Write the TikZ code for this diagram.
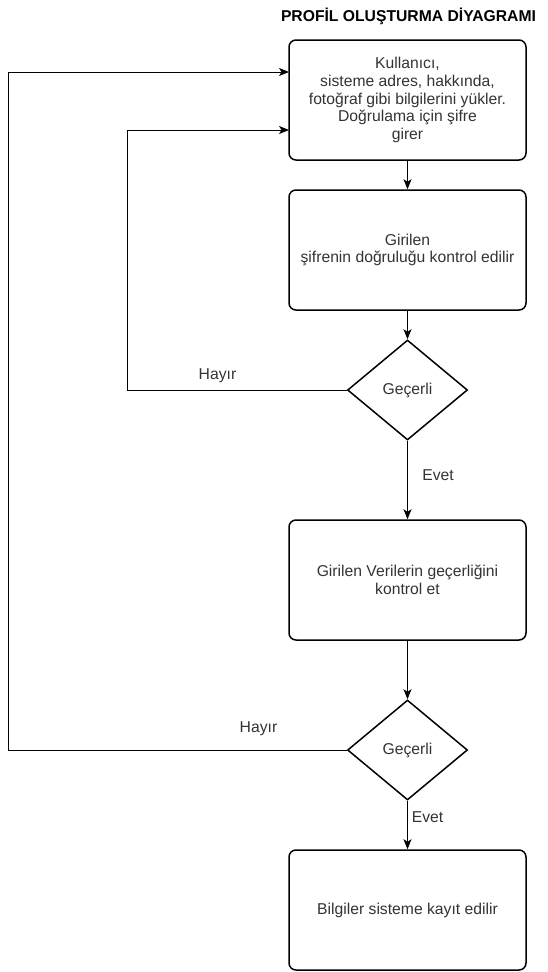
\documentclass[tikz,border=0pt]{standalone}
\usepackage{fontspec}
\setmainfont{Liberation Sans}
\usetikzlibrary{shapes.geometric,arrows.meta}

\tikzstyle{process}=[draw,rounded corners=7pt,line width=1.5pt,minimum width=237pt,minimum height=120pt,align=center,inner sep=0pt,text=black!80,font=\fontsize{15.7}{17.8}\selectfont]
\tikzstyle{decision}=[draw,diamond,aspect=1.2,line width=1.5pt,minimum width=120pt,minimum height=100pt,inner sep=0pt,text=black!80,font=\fontsize{15.7}{17.8}\selectfont]
\tikzstyle{edge} = [draw,line width=1pt,-{Stealth[length=10pt,width=8pt,inset=2.5pt]}]
\tikzstyle{lbl}=[anchor=base,inner sep=0pt,text=black!80,font=\fontsize{15.7}{17.8}\selectfont]

\begin{document}
\begin{tikzpicture}[x=1pt,y=-1pt]
			\useasboundingbox (0,0) rectangle (548,972);
			\node[font=\bfseries\fontsize{15.7}{17}\selectfont] (title) at (408.5,16.5) {PROFİL OLUŞTURMA DİYAGRAMI};
			\node[process] (upload) at (407.5,100) {Kullanıcı,\\sisteme adres, hakkında,\\fotoğraf gibi bilgilerini yükler.\\Doğrulama için şifre\\girer};
			\node[process] (check) at (407.5,250) {Girilen\\şifrenin doğruluğu kontrol edilir};
			\node[decision] (valid1) at (407.5,390) {Geçerli};
			\node[process] (verify) at (407.5,580) {Girilen Verilerin geçerliğini\\kontrol et};
			\node[decision] (valid2) at (407.5,750) {Geçerli};
			\node[process] (save) at (407.5,910) {Bilgiler sisteme kayıt edilir};
			% Corners of the loops back to the first box
			\coordinate (turn1) at (127,130);
			\coordinate (back1) at (289,130);
			\coordinate (turn2) at (8,72);
			\coordinate (back2) at (289,72);
			% Main flow
			\foreach \source/ \dest in {upload/check, check/valid1, valid1/verify, verify/valid2, valid2/save}
				\path[edge] (\source) -- (\dest);
			% Loops for Hayır
			\path[edge] (valid1.west) -| (turn1) -- (back1);
			\path[edge] (valid2.west) -| (turn2) -- (back2);
			% Labels
			\node[lbl] (no1) at (217.5,379) {Hayır};
			\node[lbl] (yes1) at (438,480) {Evet};
			\node[lbl] (no2) at (258.5,732) {Hayır};
			\node[lbl] (yes2) at (427.5,822) {Evet};
		\end{tikzpicture}
\end{document}
